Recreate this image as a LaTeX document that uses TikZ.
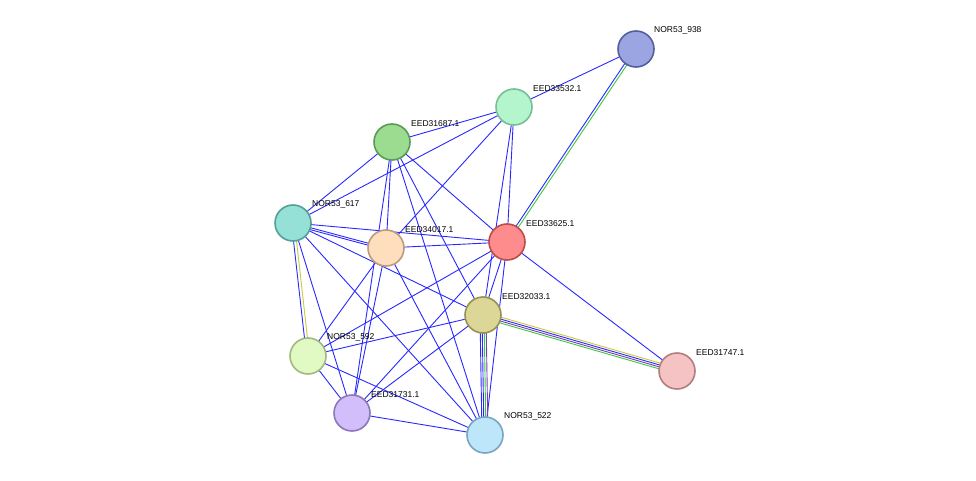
\documentclass[tikz,border=0pt]{standalone}
\usepackage{fontspec}
\setmainfont{Liberation Sans}
\begin{document}
\begin{tikzpicture}[x=1pt,y=-1pt,
  nd/.style={circle,draw,line width=1.6pt,minimum size=36pt,inner sep=0pt},
  lb/.style={anchor=south west,font=\fontsize{8.5}{10}\selectfont,inner sep=1pt},
  e/.style={draw={rgb,255:red,40;green,40;blue,255},line width=0.9pt},
  eg/.style={draw={rgb,255:red,60;green,200;blue,60},line width=0.9pt},
  ey/.style={draw={rgb,255:red,200;green,200;blue,60},line width=0.9pt},
  ep/.style={draw={rgb,255:red,120;green,60;blue,180},line width=0.9pt}]
\useasboundingbox (0,0) rectangle (976,481);
\coordinate (A) at (636,49);
\coordinate (B) at (514,107);
\coordinate (C) at (392,142);
\coordinate (D) at (293,223);
\coordinate (E) at (386,248);
\coordinate (F) at (507,242);
\coordinate (G) at (483,315);
\coordinate (H) at (677,371);
\coordinate (I) at (308,356);
\coordinate (J) at (352,413);
\coordinate (K) at (485,435);
% edges
\foreach \a/\b in {A/B,B/C,B/D,B/F,B/E,B/G,C/D,C/E,C/F,C/G,C/J,C/K,D/E,D/F,D/G,D/J,D/K,E/F,E/I,E/J,E/K,F/G,F/H,F/I,F/J,F/K,G/I,G/J,I/J,I/K,J/K}
  \path[e] (\a) -- (\b);
\path[e,transform canvas={shift={(-1.5,0)}}] (A) -- (F);
\path[eg,transform canvas={shift={(1.5,0)}}] (A) -- (F);
\path[e,transform canvas={shift={(-1.5,0)}}] (D) -- (I);
\path[ey,transform canvas={shift={(1.5,0)}}] (D) -- (I);
\path[ey,transform canvas={shift={(0,-3)}}] (G) -- (H);
\path[e,transform canvas={shift={(0,-1)}}] (G) -- (H);
\path[ep,transform canvas={shift={(0,1)}}] (G) -- (H);
\path[eg,transform canvas={shift={(0,3)}}] (G) -- (H);
\path[e,transform canvas={shift={(-3,0)}}] (G) -- (K);
\path[e,transform canvas={shift={(-1,0)}}] (G) -- (K);
\path[eg,transform canvas={shift={(1,0)}}] (G) -- (K);
\path[ep,transform canvas={shift={(3,0)}}] (G) -- (K);
\path[e,transform canvas={shift={(0,2)}}] (D) -- (E);
% nodes
\node[nd,fill={rgb,255:red,155;green,165;blue,225},draw={rgb,255:red,85;green,95;blue,160}] (nA) at (A) {};
\node[nd,fill={rgb,255:red,180;green,245;blue,205},draw={rgb,255:red,120;green,190;blue,150}] (nB) at (B) {};
\node[nd,fill={rgb,255:red,155;green,220;blue,145},draw={rgb,255:red,90;green,155;blue,85}] (nC) at (C) {};
\node[nd,fill={rgb,255:red,150;green,225;blue,215},draw={rgb,255:red,85;green,160;blue,150}] (nD) at (D) {};
\node[nd,fill={rgb,255:red,255;green,222;blue,190},draw={rgb,255:red,185;green,155;blue,125}] (nE) at (E) {};
\node[nd,fill={rgb,255:red,255;green,140;blue,140},draw={rgb,255:red,190;green,75;blue,75}] (nF) at (F) {};
\node[nd,fill={rgb,255:red,220;green,215;blue,150},draw={rgb,255:red,150;green,145;blue,85}] (nG) at (G) {};
\node[nd,fill={rgb,255:red,245;green,195;blue,195},draw={rgb,255:red,180;green,125;blue,125}] (nH) at (H) {};
\node[nd,fill={rgb,255:red,225;green,250;blue,195},draw={rgb,255:red,160;green,185;blue,130}] (nI) at (I) {};
\node[nd,fill={rgb,255:red,210;green,190;blue,250},draw={rgb,255:red,140;green,120;blue,185}] (nJ) at (J) {};
\node[nd,fill={rgb,255:red,190;green,230;blue,250},draw={rgb,255:red,120;green,165;blue,195}] (nK) at (K) {};
% labels
\node[lb] (lA) at (653,35) {NOR53\_938};
\node[lb] (lB) at (532,93) {EED33532.1};
\node[lb] (lC) at (410,128) {EED31687.1};
\node[lb] (lD) at (311,209) {NOR53\_617};
\node[lb] (lE) at (404,234) {EED34017.1};
\node[lb] (lF) at (525,228) {EED33625.1};
\node[lb] (lG) at (501,301) {EED32033.1};
\node[lb] (lH) at (695,357) {EED31747.1};
\node[lb] (lI) at (326,342) {NOR53\_592};
\node[lb] (lJ) at (370,399) {EED31731.1};
\node[lb] (lK) at (503,421) {NOR53\_522};
\end{tikzpicture}
\end{document}
